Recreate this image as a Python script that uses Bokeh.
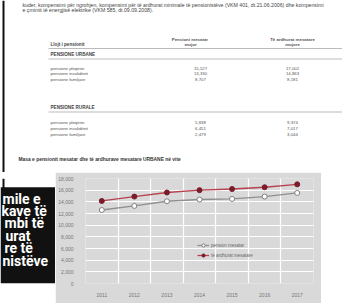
from bokeh.plotting import figure
from bokeh.layouts import column, row
from bokeh.models import Range1d, FixedTicker, NumeralTickFormatter, Legend, LegendItem, ColumnDataSource
from bokeh.core.properties import value
from bokeh.embed import file_html
from bokeh.resources import INLINE

# ---------------- data ----------------
years = ["2011", "2012", "2013", "2014", "2015", "2016", "2017"]
pension_mesatar = [12600, 13300, 14100, 14400, 14500, 14900, 15527]
te_ardhurat = [14150, 14900, 15600, 16000, 16200, 16500, 17002]
y_ticks = [0, 2000, 4000, 6000, 8000, 10000, 12000, 14000, 16000, 18000]

row_labels = ["pensione pleqërie", "pensione invaliditeti", "pensione familjare"]
urban_pension = ["15,527", "13,330", "8,707"]
urban_income = ["17,002", "14,863", "8,181"]
rural_pension = ["5,838", "6,451", "2,479"]
rural_income = ["9,374", "7,017", "3,044"]

paragraph = [
    "kuder, kompensimi për ngrohjen, kompensimi për të ardhurat minimale të pensionistëve (VKM 401, dt.21.06.2006) dhe kompensimi",
    "e çmimit të energjisë elektrike (VKM 585, dt.09.09.2008).",
]
box_lines = ["mile e", "kave të", "mbi të", "urat", "re të", "nistëve"]

FONT = value("Liberation Sans")

def blank(fig, bg="white"):
    fig.axis.visible = False
    fig.grid.visible = False
    fig.outline_line_color = None
    fig.background_fill_color = bg
    fig.border_fill_color = bg

# ---------------- top page figure (table) ----------------
top = figure(width=342, height=172, x_range=Range1d(0, 342), y_range=Range1d(172, 0),
             output_backend="svg", toolbar_location=None, min_border=0)
blank(top)
top.segment(x0=[3], y0=[0], x1=[3], y1=[172], line_color="#111111", line_width=2)

top.text(x=[22, 22], y=[4, 9.8], text=paragraph, text_font=FONT, text_font_size="5.2px",
         text_color="#444", text_baseline="middle")

top.text(x=[50], y=[44], text=["Llojt i pensionit"], text_font=FONT, text_font_size="4.6px",
         text_font_style="bold", text_color="#444", text_baseline="middle")
top.text(x=[190, 190, 292, 292], y=[38.5, 44, 38.5, 44],
         text=["Pensioni  mesatar", "mujor", "Të ardhurat mesatare", "mujore"],
         text_font=FONT, text_font_size="4.4px", text_font_style="bold", text_color="#555",
         text_align="center", text_baseline="middle")
top.segment(x0=[48, 48, 48], y0=[48, 58.5, 111.5], x1=[342, 342, 342], y1=[48, 58.5, 111.5],
            line_color="#bbbbbb", line_width=1)
top.text(x=[50, 50], y=[54, 107], text=["PENSIONE URBANE", "PENSIONE RURALE"], text_font=FONT,
         text_font_size="4.6px", text_font_style="bold", text_color="#444", text_baseline="middle")

urb_y = [67.5, 73, 78.5]
rur_y = [122, 127.5, 133.5]
top.text(x=[50] * 6, y=urb_y + rur_y, text=row_labels + row_labels, text_font=FONT,
         text_font_size="4.3px", text_color="#555", text_baseline="middle")
top.text(x=[200] * 6, y=urb_y + rur_y, text=urban_pension + rural_pension, text_font=FONT,
         text_font_size="4.3px", text_color="#555", text_baseline="middle", text_align="center")
top.text(x=[292] * 6, y=urb_y + rur_y, text=urban_income + rural_income, text_font=FONT,
         text_font_size="4.3px", text_color="#555", text_baseline="middle", text_align="center")

top.text(x=[18], y=[159], text=["Masa e pensionit mesatar dhe të ardhurave mesatare URBANE në vite"],
         text_font=FONT, text_font_size="4.9px", text_font_style="bold", text_color="#333",
         text_baseline="middle")

# ---------------- left figure (black box) ----------------
left = figure(width=55, height=131, x_range=Range1d(0, 55), y_range=Range1d(303, 172),
              output_backend="svg", toolbar_location=None, min_border=0)
blank(left)
left.segment(x0=[3], y0=[172], x1=[3], y1=[184], line_color="#111111", line_width=2)
left.quad(left=[0], right=[55], top=[183], bottom=[303], fill_color="#111111", line_color=None)
left.text(x=[2, 1, 4, 5, 4, 2], y=[197, 212.5, 228, 243.5, 259, 274.5], text=box_lines,
          text_font=value("Roboto"), text_font_size="14px", text_font_style="bold",
          text_color="white", text_baseline="middle")

# ---------------- chart ----------------
xs = [i + 1 for i in range(len(years))]
src = ColumnDataSource(dict(x=xs, p=pension_mesatar, a=te_ardhurat))

GRAY = "#d9d9d9"
p = figure(width=266, height=131, x_range=Range1d(0.5, len(years) + 0.5), y_range=Range1d(0, 18000),
           output_backend="svg", toolbar_location=None,
           min_border_left=28, min_border_right=8, min_border_top=6, min_border_bottom=20)
p.background_fill_color = GRAY
p.border_fill_color = GRAY
p.outline_line_color = None

p.xaxis.ticker = FixedTicker(ticks=xs)
p.xaxis.major_label_overrides = {x: y for x, y in zip(xs, years)}
p.yaxis.ticker = FixedTicker(ticks=y_ticks)
p.yaxis.formatter = NumeralTickFormatter(format="0,0")
for ax in (p.xaxis[0], p.yaxis[0]):
    ax.axis_line_color = None
    ax.major_tick_line_color = None
    ax.minor_tick_line_color = None
    ax.major_label_text_font_size = "5px"
    ax.major_label_text_color = "#777777"
    ax.major_label_text_font = "Liberation Sans"
p.xaxis.major_label_standoff = 3
p.yaxis.major_label_standoff = 6

p.xgrid.ticker = FixedTicker(ticks=[x - 0.5 for x in xs] + [xs[-1] + 0.5])
p.ygrid.ticker = FixedTicker(ticks=y_ticks)
p.grid.grid_line_color = "white"
p.grid.grid_line_width = 1.2

l1 = p.line("x", "p", source=src, line_color="#8f8f8f", line_width=1.3)
s1 = p.scatter("x", "p", source=src, size=5, fill_color="white", line_color="#808080", line_width=1)
l2 = p.line("x", "a", source=src, line_color="#b5424e", line_width=1.3)
s2 = p.scatter("x", "a", source=src, size=5, fill_color="#7a1c2a", line_color="#7a1c2a")

legend = Legend(items=[LegendItem(label="pension mesatar", renderers=[l1, s1]),
                       LegendItem(label="të ardhurat mesatare", renderers=[l2, s2])],
                location=(112, 24), background_fill_alpha=0, border_line_color=None,
                label_text_font_size="4.5px", label_text_color="#666666", label_text_font="Liberation Sans",
                glyph_width=12, glyph_height=8, label_height=8, label_standoff=2, spacing=2,
                padding=0, margin=0)
p.add_layout(legend, "center")

right = figure(width=21, height=131, x_range=Range1d(0, 1), y_range=Range1d(0, 1),
               output_backend="svg", toolbar_location=None, min_border=0)
blank(right)
right.quad(left=[0], right=[1], top=[1], bottom=[0], fill_color="white", line_color=None)

bottom = figure(width=342, height=3, x_range=Range1d(0, 1), y_range=Range1d(0, 1),
                output_backend="svg", toolbar_location=None, min_border=0)
blank(bottom)
bottom.quad(left=[0], right=[1], top=[1], bottom=[0], fill_color="white", line_color=None)

layout = column(top, row(left, p, right, spacing=0), bottom, spacing=0)

open("out.html", "w").write(file_html(layout, INLINE))
